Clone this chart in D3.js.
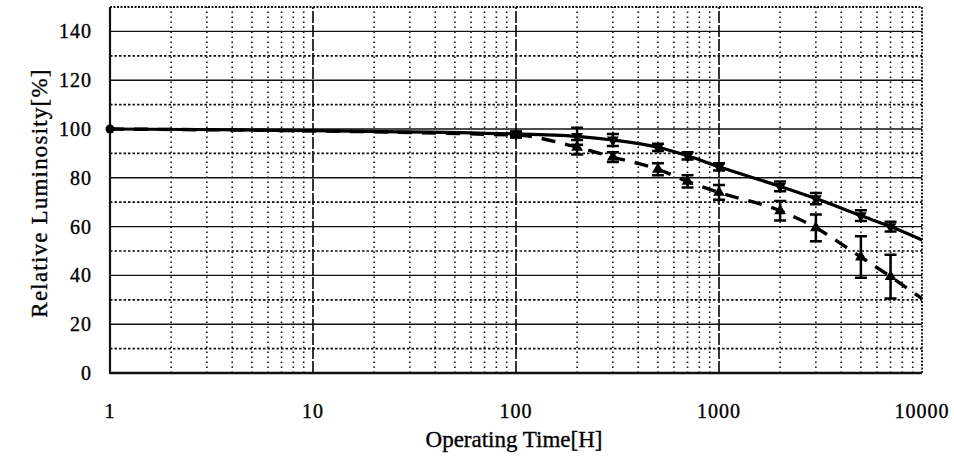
<!DOCTYPE html>
<html>
<head>
<meta charset="utf-8">
<script src="https://cdn.jsdelivr.net/npm/d3@7"></script>
<style>
  body { margin: 0; background: #fff; }
  text { font-family: "Liberation Serif", "DejaVu Serif", serif; fill: #000; stroke: #000; stroke-width: 0.35px; }
</style>
</head>
<body>
<div id="canvas"></div>
<script>
// measured points (hours) and relative luminosity
const times = [1, 100, 200, 300, 500, 700, 1000, 2000, 3000, 5000, 7000];
const solidVals = [100, 98, 97, 95.5, 92.5, 89, 84.5, 76.5, 71.5, 64.5, 60];
const solidErr = [0, 1, 3.5, 2.5, 1.5, 1.5, 1.5, 2, 2.3, 2.2, 2];
const dashVals = [100, 97.5, 92.5, 88.5, 83.5, 78.5, 74, 66.5, 59.5, 47.5, 39.5];
const dashErr = [0, 1, 3, 2, 2.5, 2.5, 3, 4, 5.5, 8.5, 9];
// where the fitted curves leave the frame
const endTime = 10000;
const solidEnd = 54.5;
const dashEnd = 30.5;

const xTicks = [1, 10, 100, 1000, 10000];
const yTicks = [0, 20, 40, 60, 80, 100, 120, 140];

const W = 954, H = 461;
const margin = {left: 110, right: 32, top: 7, bottom: 88};

const svg = d3.select('#canvas')
    .append('svg')
    .attr('width', W)
    .attr('height', H);

const x = d3.scaleLog()
    .domain([1, 10000])
    .range([margin.left, W - margin.right]);

const y = d3.scaleLinear()
    .domain([0, 150])
    .range([H - margin.bottom, margin.top]);

const grid = svg.append('g').attr('stroke', '#111').attr('fill', 'none');

// minor verticals 2..9 in each decade
const minors = [];
for (let d = 1; d < 10000; d *= 10) {
  for (let k = 2; k <= 9; k++) minors.push(d * k);
}
grid.selectAll('.vminor')
    .data(minors)
    .enter()
    .append('line')
    .attr('x1', d => x(d)).attr('x2', d => x(d))
    .attr('y1', y(0)).attr('y2', y(150))
    .attr('stroke-width', 1.6)
    .attr('stroke-dasharray', '1.6,3.4');

// decade verticals
grid.selectAll('.vmajor')
    .data([10, 100, 1000])
    .enter()
    .append('line')
    .attr('x1', d => x(d)).attr('x2', d => x(d))
    .attr('y1', y(0)).attr('y2', y(150))
    .attr('stroke-width', 1.7)
    .attr('stroke-dasharray', '12,2');

// horizontal grid: solid every 20, dotted at the odd tens
grid.selectAll('.hmajor')
    .data(yTicks.slice(1))
    .enter()
    .append('line')
    .attr('x1', x(1)).attr('x2', x(10000))
    .attr('y1', d => y(d)).attr('y2', d => y(d))
    .attr('stroke-width', 1.4);

grid.selectAll('.hminor')
    .data([10, 30, 50, 70, 90, 110, 130])
    .enter()
    .append('line')
    .attr('x1', x(1)).attr('x2', x(10000))
    .attr('y1', d => y(d)).attr('y2', d => y(d))
    .attr('stroke-width', 1.7)
    .attr('stroke-dasharray', '2.5,2');

// frame: dotted top and right, solid left and bottom
grid.append('line')
    .attr('x1', x(1)).attr('x2', x(10000))
    .attr('y1', y(150)).attr('y2', y(150))
    .attr('stroke-width', 1.8)
    .attr('stroke-dasharray', '2,1.5');
grid.append('line')
    .attr('x1', x(10000)).attr('x2', x(10000))
    .attr('y1', y(0)).attr('y2', y(150))
    .attr('stroke-width', 1.8)
    .attr('stroke-dasharray', '2,1.5');
grid.append('line')
    .attr('x1', x(1)).attr('x2', x(1))
    .attr('y1', y(0) + 1).attr('y2', y(150))
    .attr('stroke-width', 2.2);
grid.append('line')
    .attr('x1', x(1)).attr('x2', x(10000))
    .attr('y1', y(0)).attr('y2', y(0))
    .attr('stroke-width', 2.5);

// curves
const line = d3.line()
    .x(d => x(d[0]))
    .y(d => y(d[1]))
    .curve(d3.curveMonotoneX);

const solidPts = times.map((t, i) => [t, solidVals[i]]).concat([[endTime, solidEnd]]);
const dashPts = times.map((t, i) => [t, dashVals[i]]).concat([[endTime, dashEnd]]);

svg.append('path')
    .datum(solidPts)
    .attr('d', line)
    .attr('fill', 'none')
    .attr('stroke', '#000')
    .attr('stroke-width', 3.2);

svg.append('path')
    .datum(dashPts)
    .attr('d', line)
    .attr('fill', 'none')
    .attr('stroke', '#000')
    .attr('stroke-width', 3.4)
    .attr('stroke-dasharray', '14,10');

// error bars + markers
const drawSeries = (vals, errs, down) => {
  const g = svg.append('g');
  const pts = times.map((t, i) => ({t, v: vals[i], e: errs[i]})).filter(d => d.t > 1);
  const bars = pts.filter(d => d.e > 0);
  g.selectAll('.eb')
      .data(bars)
      .enter()
      .append('path')
      .attr('d', d => {
        const cx = x(d.t), y1 = y(d.v + d.e), y2 = y(d.v - d.e);
        return `M${cx - 6},${y1}H${cx + 6}M${cx},${y1}V${y2}M${cx - 6},${y2}H${cx + 6}`;
      })
      .attr('fill', 'none')
      .attr('stroke', '#000')
      .attr('stroke-width', 2.5);
  g.selectAll('.mk')
      .data(pts)
      .enter()
      .append('path')
      .attr('d', d3.symbol().type(d3.symbolTriangle).size(60))
      .attr('transform', d => `translate(${x(d.t)},${y(d.v)}) rotate(${down ? 180 : 0})`)
      .attr('fill', '#000');
};
drawSeries(solidVals, solidErr, true);
drawSeries(dashVals, dashErr, false);

// starting point
svg.append('circle')
    .attr('cx', x(times[0]))
    .attr('cy', y(solidVals[0]))
    .attr('r', 4.5)
    .attr('fill', '#000');

// axes labels
svg.append('g')
    .selectAll('text')
    .data(yTicks)
    .enter()
    .append('text')
    .attr('x', 92)
    .attr('y', d => y(d) + 7)
    .attr('text-anchor', 'end')
    .attr('font-size', 20)
    .attr('letter-spacing', 1)
    .text(d => d);

svg.append('g')
    .selectAll('text')
    .data(xTicks)
    .enter()
    .append('text')
    .attr('x', d => x(d))
    .attr('y', 418)
    .attr('text-anchor', 'middle')
    .attr('font-size', 20)
    .attr('letter-spacing', 1)
    .text(d => d);

svg.append('text')
    .attr('x', x(100) - 2)
    .attr('y', 447)
    .attr('text-anchor', 'middle')
    .attr('font-size', 23)
    .text('Operating Time[H]');

svg.append('text')
    .attr('transform', 'translate(47, 193) rotate(-90)')
    .attr('text-anchor', 'middle')
    .attr('font-size', 23)
    .attr('letter-spacing', 1.2)
    .text('Relative Luminosity[%]');
</script>
</body>
</html>
